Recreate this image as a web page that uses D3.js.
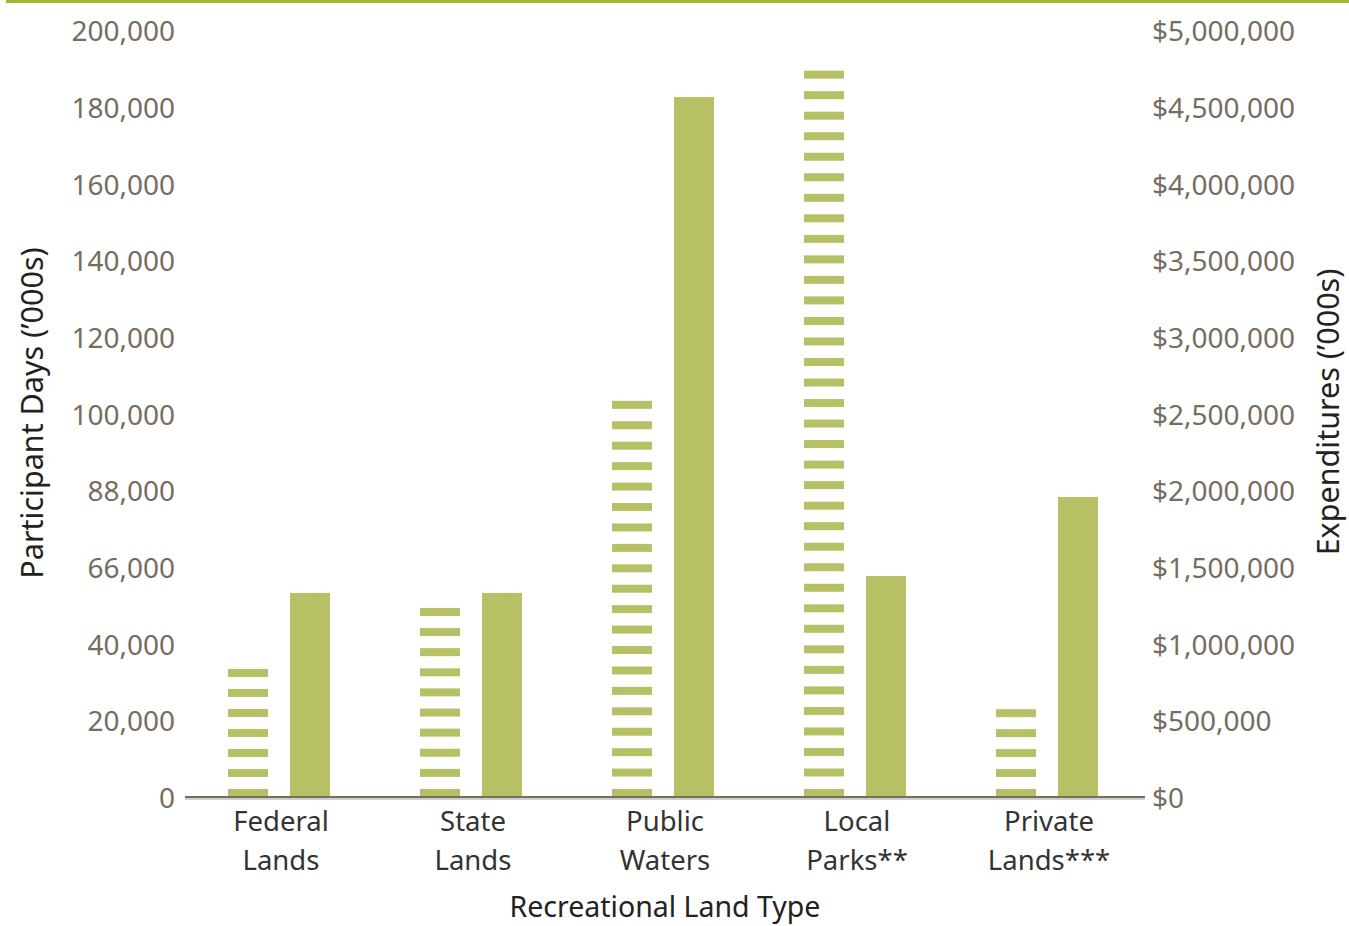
<!DOCTYPE html>
<html>
<head>
<meta charset="utf-8">
<script src="https://cdn.jsdelivr.net/npm/d3@7"></script>
<style>
    body { margin: 0; background: #fff; }
    svg { display: block; font-family: 'Noto Sans', sans-serif; }
</style>
</head>
<body>
<svg width="1349" height="926"></svg>
<script>
// categories and series
const categories = [['Federal', 'Lands'], ['State', 'Lands'], ['Public', 'Waters'], ['Local', 'Parks**'], ['Private', 'Lands***']];
const participantDays = [33400, 49300, 103300, 189400, 22900];
const expenditures = [1330000, 1330000, 4563000, 1441000, 1956000];
const leftTickValues = [0, 20000, 40000, 60000, 80000, 100000, 120000, 140000, 160000, 180000, 200000];
const leftTickLabels = ['0', '20,000', '40,000', '66,000', '88,000', '100,000', '120,000', '140,000', '160,000', '180,000', '200,000'];
const rightTickValues = [0, 500000, 1000000, 1500000, 2000000, 2500000, 3000000, 3500000, 4000000, 4500000, 5000000];

const green = '#b8c066';
const tickColor = '#766d5e';

const svg = d3.select('svg');

// top rule
svg.append('rect').attr('x', 6).attr('y', 0).attr('width', 1343).attr('height', 3).attr('fill', '#a3b63b');

const x0 = d3.scaleBand().domain(d3.range(categories.length)).range([185, 1145]);
const x1 = d3.scaleBand().domain(['days', 'spend']).range([-53, 49]).paddingInner(0.355);
const yLeft = d3.scaleLinear().domain([0, 200000]).range([797, 30]);
const yRight = d3.scaleLinear().domain([0, 5000000]).range([797, 30]);

// striped bars (participant days)
const stripeH = 8;
const period = 20.4;
participantDays.forEach((v, i) => {
    const top = yLeft(v);
    const h = yLeft(0) - top;
    const n = Math.max(1, Math.round((h - stripeH) / period)) + 1;
    const step = (h - stripeH) / (n - 1);
    const bx = x0(i) + x0.bandwidth() / 2 + x1('days');
    svg.append('g')
        .selectAll('rect')
        .data(d3.range(n))
        .join('rect')
        .attr('x', bx)
        .attr('y', (k) => top + k * step)
        .attr('width', x1.bandwidth())
        .attr('height', stripeH)
        .attr('fill', green);
});

// solid bars (expenditures)
svg.append('g')
    .selectAll('rect')
    .data(expenditures)
    .join('rect')
    .attr('x', (d, i) => x0(i) + x0.bandwidth() / 2 + x1('spend'))
    .attr('y', (d) => yRight(d))
    .attr('width', x1.bandwidth())
    .attr('height', (d) => yRight(0) - yRight(d))
    .attr('fill', green);

// left axis
const leftAxis = svg.append('g')
    .attr('transform', 'translate(185,0)')
    .call(d3.axisLeft(yLeft).tickValues(leftTickValues).tickSize(0).tickPadding(10)
        .tickFormat((d, i) => leftTickLabels[i]));
leftAxis.select('.domain').remove();
leftAxis.selectAll('text').attr('fill', tickColor).attr('font-size', 28).attr('font-family', 'Noto Sans').attr('dy', '0.38em');

// right axis
const rightAxis = svg.append('g')
    .attr('transform', 'translate(1145,0)')
    .call(d3.axisRight(yRight).tickValues(rightTickValues).tickSize(0).tickPadding(7)
        .tickFormat((d) => '$' + d3.format(',')(d)));
rightAxis.select('.domain').remove();
rightAxis.selectAll('text').attr('fill', tickColor).attr('font-size', 28).attr('font-family', 'Noto Sans').attr('dy', '0.38em');

// baseline with shadow
svg.append('line').attr('x1', 185).attr('x2', 1145).attr('y1', 799).attr('y2', 799)
    .attr('stroke', '#d0d0d0').attr('stroke-width', 2);
svg.append('line').attr('x1', 185).attr('x2', 1145).attr('y1', 797).attr('y2', 797)
    .attr('stroke', '#7a6e5a').attr('stroke-width', 2);

// category labels
const cat = svg.append('g')
    .selectAll('text')
    .data(categories)
    .join('text')
    .attr('x', (d, i) => x0(i) + x0.bandwidth() / 2)
    .attr('text-anchor', 'middle')
    .attr('font-size', 27.5)
    .attr('fill', '#333');
cat.append('tspan').attr('x', (d, i) => x0(i) + x0.bandwidth() / 2).attr('y', 831).text((d) => d[0]);
cat.append('tspan').attr('x', (d, i) => x0(i) + x0.bandwidth() / 2).attr('y', 870).text((d) => d[1]);

// axis titles
svg.append('text').attr('x', 665).attr('y', 917).attr('text-anchor', 'middle')
    .attr('font-size', 28.5).attr('fill', '#222').text('Recreational Land Type');
svg.append('text').attr('transform', 'translate(43,413) rotate(-90)').attr('text-anchor', 'middle')
    .attr('font-size', 30.5).attr('fill', '#222').text('Participant Days (’000s)');
svg.append('text').attr('transform', 'translate(1339,412) rotate(-90)').attr('text-anchor', 'middle')
    .attr('font-size', 30.5).attr('fill', '#222').text('Expenditures (’000s)');
</script>
</body>
</html>
